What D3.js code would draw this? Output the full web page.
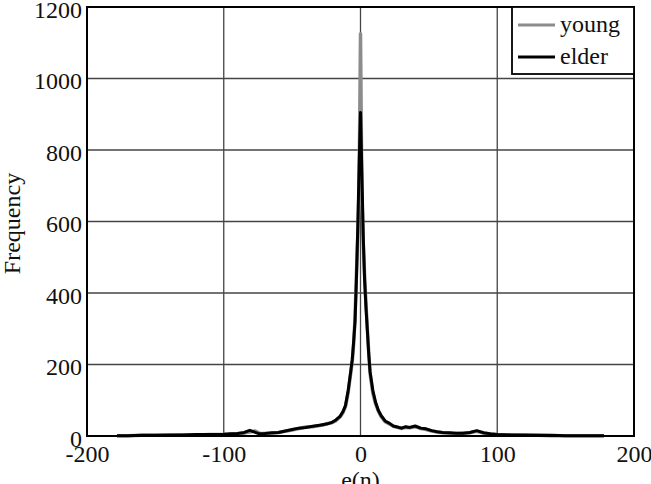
<!DOCTYPE html>
<html>
<head>
<meta charset="utf-8">
<script src="https://cdn.jsdelivr.net/npm/d3@7"></script>
<style>
  body { margin: 0; background: #fff; }
  svg { display: block; }
</style>
</head>
<body>
<div id="chart"></div>
<script>
// histogram of e(n), young vs elder
const eValues = [-178,-170,-160,-150,-140,-130,-120,-110,-100,-95,-90,-85,-81,-77,-74,-70,-65,-60,-55,-50,-45,-40,-35,-30,-27,-24,-21,-18,-15,-13,-11,-9,-7,-6,-5,-4,-3,-2,-1,0,1,2,3,4,5,6,7,9,11,13,15,18,21,24,27,30,33,36,40,44,48,52,56,60,65,70,75,80,85,90,95,100,110,120,130,140,150,160,170,178];

const elder = [1,1,2,2,3,3,4,4,5,6,7,10,16,10,6,7,9,10,14,18,22,24,27,30,32,34,38,45,55,67,85,128,185,215,265,320,436,580,760,905,740,560,436,360,296,230,180,128,95,72,58,42,36,28,25,22,26,24,28,22,20,15,12,10,9,8,8,10,15,9,6,4,3,3,2,2,1,1,1,1];

const young = [1,1,2,2,2,3,3,4,4,5,6,8,11,14,8,7,8,10,13,17,21,25,26,29,31,35,37,43,53,64,82,122,180,210,258,330,450,560,700,1125,680,540,450,370,300,235,175,120,90,70,55,40,34,27,24,21,24,23,26,21,18,14,11,9,8,7,8,9,13,8,5,4,3,2,2,1,1,1,1,1];

const xTicks = [-200, -100, 0, 100, 200];
const yTicks = [0, 200, 400, 600, 800, 1000, 1200];

const width = 651;
const height = 484;
const marginTop = 7;
const marginRight = 17;
const marginBottom = 48;
const marginLeft = 87;
const font = "'Liberation Serif', 'Times New Roman', serif";

const x = d3.scaleLinear()
    .domain([-200, 200])
    .range([marginLeft, width - marginRight]);

const y = d3.scaleLinear()
    .domain([0, 1200])
    .range([height - marginBottom, marginTop]);

const svg = d3.create("svg")
    .attr("width", width)
    .attr("height", height)
    .attr("viewBox", [0, 0, width, height]);

// grid
svg.append("g")
    .attr("stroke", "#444")
    .attr("stroke-width", 1.3)
    .selectAll("line")
    .data(xTicks)
    .join("line")
      .attr("x1", d => x(d))
      .attr("x2", d => x(d))
      .attr("y1", y(0))
      .attr("y2", y(1200));

svg.append("g")
    .attr("stroke", "#444")
    .attr("stroke-width", 1.3)
    .selectAll("line")
    .data(yTicks)
    .join("line")
      .attr("x1", x(-200))
      .attr("x2", x(200))
      .attr("y1", d => y(d))
      .attr("y2", d => y(d));

// axes
svg.append("g")
    .attr("transform", `translate(0,${height - marginBottom})`)
    .call(d3.axisBottom(x).tickValues(xTicks).tickFormat(d => String(d)).tickSize(0).tickPadding(0))
    .call(g => g.select(".domain").remove())
    .call(g => g.selectAll("text")
        .attr("dy", null)
        .attr("y", 26)
        .attr("fill", "#111")
        .attr("font-family", font)
        .attr("font-size", 24));

svg.append("g")
    .attr("transform", `translate(${marginLeft},0)`)
    .call(d3.axisLeft(y).tickValues(yTicks).tickFormat(d => String(d)).tickSize(0).tickPadding(5))
    .call(g => g.select(".domain").remove())
    .call(g => g.selectAll("text")
        .attr("dy", null)
        .attr("y", 10)
        .attr("fill", "#111")
        .attr("font-family", font)
        .attr("font-size", 24));

const line = d3.line()
    .x((d, i) => x(eValues[i]))
    .y(d => y(d));

svg.append("path")
    .datum(young)
    .attr("fill", "none")
    .attr("stroke", "#8c8c8c")
    .attr("stroke-width", 3.5)
    .attr("stroke-linejoin", "round")
    .attr("d", line);

svg.append("path")
    .datum(elder)
    .attr("fill", "none")
    .attr("stroke", "#000")
    .attr("stroke-width", 3)
    .attr("stroke-linejoin", "round")
    .attr("d", line);

// frame
svg.append("rect")
    .attr("x", x(-200))
    .attr("y", y(1200))
    .attr("width", x(200) - x(-200))
    .attr("height", y(0) - y(1200))
    .attr("fill", "none")
    .attr("stroke", "#000")
    .attr("stroke-width", 2);

// labels
svg.append("text")
    .attr("transform", `translate(20,${(y(0) + y(1200)) / 2 + 2}) rotate(-90)`)
    .attr("text-anchor", "middle")
    .attr("font-family", font)
    .attr("font-size", 24)
    .attr("fill", "#111")
    .text("Frequency");

svg.append("text")
    .attr("x", x(0))
    .attr("y", 488)
    .attr("text-anchor", "middle")
    .attr("font-family", font)
    .attr("font-size", 24)
    .attr("fill", "#111")
    .text("e(n)");

// legend
const legend = svg.append("g");
legend.append("rect")
    .attr("x", 512)
    .attr("y", y(1200))
    .attr("width", x(200) - 512)
    .attr("height", 67)
    .attr("fill", "#fff")
    .attr("stroke", "#000")
    .attr("stroke-width", 1.8);

const legendItems = [["young", "#8c8c8c"], ["elder", "#000"]];
legend.selectAll("g")
    .data(legendItems)
    .join("g")
      .attr("transform", (d, i) => `translate(518,${25 + i * 32})`)
      .call(g => g.append("line")
          .attr("x2", 37)
          .attr("stroke", d => d[1])
          .attr("stroke-width", 3))
      .call(g => g.append("text")
          .attr("x", 42)
          .attr("y", 7)
          .attr("font-family", font)
          .attr("font-size", 24)
          .attr("fill", "#111")
          .text(d => d[0]));

d3.select("#chart").node().append(svg.node());
</script>
</body>
</html>
